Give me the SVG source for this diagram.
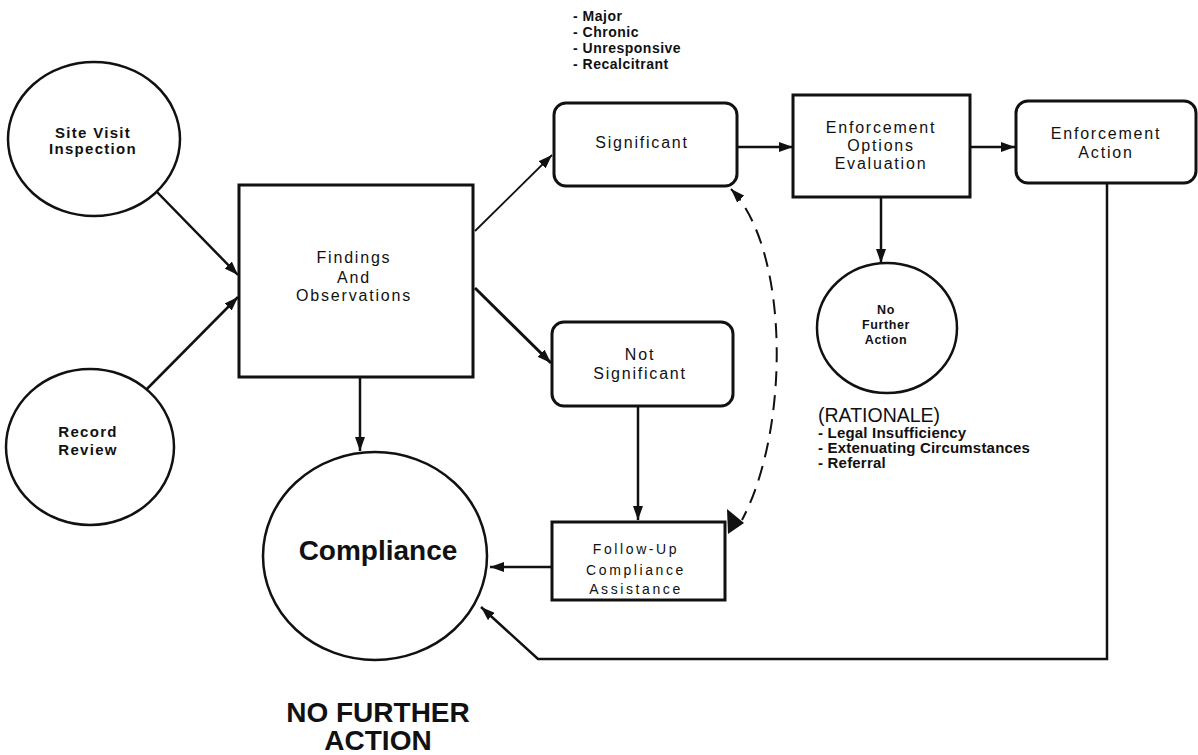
<svg xmlns="http://www.w3.org/2000/svg" width="1198" height="755" viewBox="0 0 1198 755">
<style>
  .shape { fill: #fff; stroke: #111; stroke-width: 3; }
  .circ { fill: #fff; stroke: #111; stroke-width: 2.5; }
  .lbl { font-family: "Liberation Sans", Arial, sans-serif; font-size: 16px; fill: #111; text-anchor: middle; letter-spacing: 1.8px; }
  .lblsm { font-family: "Liberation Sans", Arial, sans-serif; font-size: 14px; fill: #111; text-anchor: middle; letter-spacing: 2.6px; }
  .lblb { font-family: "Liberation Sans", Arial, sans-serif; font-size: 15px; font-weight: bold; fill: #111; text-anchor: middle; letter-spacing: 1.3px; }
  .big { font-family: "Liberation Sans", Arial, sans-serif; font-size: 28px; font-weight: bold; fill: #111; text-anchor: middle; }
  .nfa { font-family: "Liberation Sans", Arial, sans-serif; font-size: 12.5px; font-weight: bold; fill: #111; text-anchor: middle; letter-spacing: 0.6px; }
  .list { font-family: "Liberation Sans", Arial, sans-serif; font-size: 14px; font-weight: bold; fill: #111; letter-spacing: 0.5px; }
  .rat { font-family: "Liberation Sans", Arial, sans-serif; font-size: 15px; font-weight: bold; fill: #111; letter-spacing: 0.2px; }
  .rath { font-family: "Liberation Sans", Arial, sans-serif; font-size: 19.5px; fill: #111; }
  .conn { fill: none; stroke: #111; stroke-width: 2.5; }
  .thin { stroke-width: 1.8; }
  .thick { stroke-width: 3; }
  .dash { fill: none; stroke: #111; stroke-width: 2; stroke-dasharray: 15 9; }
</style>
<defs>
  <marker id="ah" viewBox="0 0 14 10" refX="14" refY="5" markerWidth="14" markerHeight="10" markerUnits="userSpaceOnUse" orient="auto-start-reverse">
    <path d="M0,0 L14,5 L0,10 z" fill="#111"/>
  </marker>
  <marker id="ahR" viewBox="0 0 14 10" refX="14" refY="5" markerWidth="15" markerHeight="22" markerUnits="userSpaceOnUse" orient="15" preserveAspectRatio="none">
    <path d="M0,0 L14,5 L0,10 z" fill="#111"/>
  </marker>
</defs>
<rect width="1198" height="755" fill="#fff"/>

<g id="connectors">
  <line class="conn" x1="157" y1="192" x2="238" y2="275" marker-end="url(#ah)"/>
  <line class="conn" x1="138" y1="398" x2="238" y2="297" marker-end="url(#ah)"/>
  <line class="conn thin" x1="475" y1="231" x2="552" y2="155" marker-end="url(#ah)"/>
  <line class="conn thick" x1="475" y1="288" x2="551" y2="363" marker-end="url(#ah)"/>
  <line class="conn" x1="360" y1="377" x2="360" y2="451" marker-end="url(#ah)"/>
  <line class="conn" x1="638" y1="406" x2="638" y2="520" marker-end="url(#ah)"/>
  <line class="conn" x1="552" y1="567" x2="490" y2="567" marker-end="url(#ah)"/>
  <line class="conn" x1="737" y1="147" x2="793" y2="147" marker-end="url(#ah)"/>
  <line class="conn" x1="970" y1="147" x2="1015" y2="147" marker-end="url(#ah)"/>
  <line class="conn" x1="881" y1="197" x2="881" y2="263" marker-end="url(#ah)"/>
  <polyline class="conn" points="1107,183 1107,659 538,659 481,607" marker-end="url(#ah)"/>
  <path class="dash" d="M731,189 C790,250 790,430 742,520" marker-start="url(#ah)"/>
  <path d="M727,509 L744,523 L728,534 z" fill="#111"/>
</g>

<g id="list-top">
  <text class="list" x="573" y="21">- Major</text>
  <text class="list" x="573" y="37">- Chronic</text>
  <text class="list" x="573" y="53">- Unresponsive</text>
  <text class="list" x="573" y="69">- Recalcitrant</text>
</g>

<g id="site-visit">
  <ellipse class="circ" cx="94" cy="139" rx="86" ry="77"/>
  <text class="lblb" x="93" y="138">Site Visit</text>
  <text class="lblb" x="93" y="154">Inspection</text>
</g>

<g id="record-review">
  <ellipse class="circ" cx="90" cy="447" rx="84" ry="78"/>
  <text class="lblb" x="88" y="437">Record</text>
  <text class="lblb" x="88" y="455">Review</text>
</g>

<g id="findings">
  <rect class="shape" x="239" y="185" width="234" height="192"/>
  <text class="lbl" x="354" y="263">Findings</text>
  <text class="lbl" x="354" y="283">And</text>
  <text class="lbl" x="354" y="301">Observations</text>
</g>

<g id="significant">
  <rect class="shape" x="554" y="103" width="183" height="83" rx="12"/>
  <text class="lbl" x="642" y="148">Significant</text>
</g>

<g id="not-significant">
  <rect class="shape" x="552" y="322" width="181" height="84" rx="12"/>
  <text class="lbl" x="640" y="360">Not</text>
  <text class="lbl" x="640" y="379">Significant</text>
</g>

<g id="follow-up">
  <rect class="shape" x="552" y="522" width="173" height="78"/>
  <text class="lblsm" x="636" y="554">Follow-Up</text>
  <text class="lblsm" x="636" y="575">Compliance</text>
  <text class="lblsm" x="636" y="594">Assistance</text>
</g>

<g id="compliance">
  <ellipse class="circ" cx="375" cy="556" rx="112" ry="104"/>
  <text class="big" x="378" y="560">Compliance</text>
</g>

<g id="enforcement-options">
  <rect class="shape" x="793" y="95" width="177" height="102"/>
  <text class="lbl" x="881" y="133">Enforcement</text>
  <text class="lbl" x="881" y="151">Options</text>
  <text class="lbl" x="881" y="169">Evaluation</text>
</g>

<g id="enforcement-action">
  <rect class="shape" x="1016" y="101" width="180" height="82" rx="12"/>
  <text class="lbl" x="1106" y="139">Enforcement</text>
  <text class="lbl" x="1106" y="158">Action</text>
</g>

<g id="no-further-action-circle">
  <ellipse class="circ" cx="887" cy="328" rx="70" ry="65"/>
  <text class="nfa" x="886" y="314">No</text>
  <text class="nfa" x="886" y="329">Further</text>
  <text class="nfa" x="886" y="344">Action</text>
</g>

<g id="rationale">
  <text class="rath" x="818" y="422">(RATIONALE)</text>
  <text class="rat" x="818" y="438">- Legal Insufficiency</text>
  <text class="rat" x="818" y="453">- Extenuating Circumstances</text>
  <text class="rat" x="818" y="468">- Referral</text>
</g>

<g id="no-further-action">
  <text class="big" x="378" y="722">NO FURTHER</text>
  <text class="big" x="378" y="750">ACTION</text>
</g>
</svg>
